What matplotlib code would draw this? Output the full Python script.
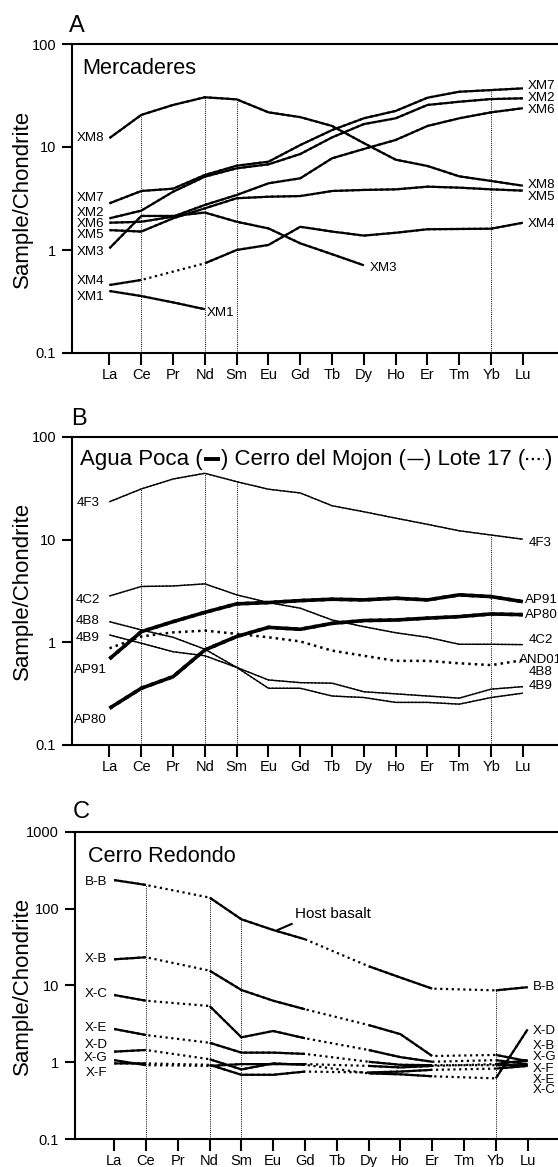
import numpy as np
import matplotlib
matplotlib.use("Agg")
import matplotlib.pyplot as plt
from matplotlib.lines import Line2D
from matplotlib.offsetbox import TextArea, DrawingArea, HPacker, AnchoredOffsetbox
from matplotlib.ticker import FixedLocator, NullLocator

plt.rcParams['font.family'] = ['Liberation Sans', 'DejaVu Sans']

nan = np.nan
ree = ['La', 'Ce', 'Pr', 'Nd', 'Sm', 'Eu', 'Gd', 'Tb', 'Dy', 'Ho', 'Er', 'Tm', 'Yb', 'Lu']
guide_ree = ['Ce', 'Nd', 'Sm', 'Yb']

# --- A: Mercaderes (chondrite normalised) ---
xm1 = [0.40, 0.357, 0.31, 0.266, nan, nan, nan, nan, nan, nan, nan, nan, nan, nan]
xm2 = [2.03, 2.41, 3.68, 5.15, 6.21, 6.79, 8.55, 12.4, 16.7, 19.0, 25.6, 27.5, 29.2, 29.7]
xm3 = [1.04, 2.14, 2.14, 2.31, 1.88, 1.62, 1.16, 0.91, 0.71, nan, nan, nan, nan, nan]
xm4 = [0.457, 0.512, nan, 0.743, 1.0, 1.12, 1.68, 1.51, 1.38, 1.47, 1.59, 1.60, 1.61, 1.84]
xm5 = [1.56, 1.51, 2.03, 2.54, 3.18, 3.29, 3.34, 3.74, 3.83, 3.88, 4.12, 4.03, 3.88, 3.77]
xm6 = [1.84, 1.88, 2.11, 2.74, 3.42, 4.44, 4.97, 7.77, 9.57, 11.7, 16.0, 19.0, 21.7, 23.8]
xm7 = [2.84, 3.74, 3.94, 5.35, 6.58, 7.2, 10.45, 14.6, 19.0, 22.4, 30.1, 34.4, 35.7, 37.1]
xm8 = [12.2, 20.5, 25.6, 30.4, 29.0, 21.7, 19.5, 16.0, 10.9, 7.53, 6.54, 5.19, 4.68, 4.21]

# --- B: Agua Poca / Cerro del Mojon / Lote 17 ---
s4f3 = [23.4, 31.2, 39.0, 44.3, 36.7, 31.0, 28.5, 21.4, 18.7, 16.2, 14.1, 12.2, 11.1, 10.1]
s4c2 = [2.83, 3.5, 3.54, 3.71, 2.90, 2.44, 2.15, 1.65, 1.42, 1.24, 1.12, 0.957, 0.957, 0.95]
s4b8 = [1.59, 1.32, 1.12, 0.857, 0.57, 0.43, 0.405, 0.40, 0.33, 0.315, 0.30, 0.286, 0.35, 0.37]
s4b9 = [1.18, 0.98, 0.81, 0.74, 0.57, 0.357, 0.357, 0.30, 0.29, 0.26, 0.26, 0.25, 0.29, 0.32]
ap91 = [0.69, 1.27, 1.59, 1.96, 2.37, 2.44, 2.55, 2.63, 2.59, 2.69, 2.59, 2.90, 2.79, 2.49]
ap80 = [0.228, 0.357, 0.463, 0.843, 1.14, 1.40, 1.34, 1.53, 1.63, 1.65, 1.72, 1.78, 1.89, 1.86]
and01 = [0.875, 1.14, 1.25, 1.30, 1.21, 1.12, 1.02, 0.83, 0.74, 0.66, 0.66, 0.625, 0.60, 0.67]

# --- C: Cerro Redondo (Pr, Tb, Tm not analysed) ---
bb = [235, 203, nan, 139, 72.6, 52.7, 39.9, nan, 17.8, 12.7, 9.1, nan, 8.65, 9.5]
xb = [21.9, 23.3, nan, 15.6, 8.74, 6.34, 4.91, nan, 3.06, 2.33, 1.21, nan, 1.25, 1.04]
xc = [7.52, 6.34, nan, 5.41, 2.12, 2.56, 2.06, nan, 1.45, 1.17, 1.02, nan, 1.07, 0.95]
xe = [2.72, 2.27, nan, 1.80, 1.34, 1.34, 1.29, nan, 1.02, 0.93, 0.92, nan, 0.92, 0.92]
xd = [1.38, 1.45, nan, 1.10, 0.81, 0.97, 0.93, nan, 0.72, 0.70, 0.66, nan, 0.62, 2.69]
xg = [1.07, 0.92, nan, 0.90, 0.95, 0.95, 0.95, nan, 0.90, 0.86, 0.90, nan, 0.95, 1.07]
xf = [0.97, 0.97, nan, 0.93, 0.69, 0.69, 0.76, nan, 0.74, 0.76, 0.80, nan, 0.83, 0.90]

x = np.arange(len(ree))
DOT = (0, (1, 1.6))


def draw_series(ax, vals, lw, all_dotted=False):
    y = np.array(vals, float)
    ok = ~np.isnan(y)
    # dotted line bridges the missing elements, solid line drawn on top
    ax.plot(x[ok], y[ok], color='k', lw=lw, ls=DOT, zorder=3)
    if not all_dotted:
        ax.plot(x, y, color='k', lw=lw, solid_capstyle='butt', zorder=4)


def setup(ax, ylo, yhi, xlo, series):
    ax.set_yscale('log')
    ax.set_ylim(ylo, yhi)
    ax.set_xlim(xlo, xlo + ax.get_position().width * 558 / 31.8)
    for side in ['top', 'left', 'bottom']:
        ax.spines[side].set_linewidth(1.5)
    ax.spines['right'].set_visible(False)
    decades = [10.0 ** k for k in range(int(np.log10(ylo)), int(np.log10(yhi)) + 1)]
    ax.yaxis.set_major_locator(FixedLocator(decades))
    ax.yaxis.set_minor_locator(NullLocator())
    ax.set_yticklabels(['%g' % d for d in decades])
    ax.set_xticks(x)
    ax.set_xticklabels(ree)
    ax.tick_params(axis='y', direction='out', length=7, width=1.5, pad=4.5, labelsize=10.5)
    ax.tick_params(axis='x', direction='out', length=8.5, width=1.5, pad=2, labelsize=10.5)
    ax.set_ylabel('Sample/Chondrite', fontsize=16)
    ax.yaxis.set_label_coords(-(ax.get_position().x0 * 558 - 33) / (ax.get_position().width * 558), 0.5)
    # dotted guides from the axis floor up to the highest pattern
    top = np.nanmax(np.array(series, float), axis=0)
    for el in guide_ree:
        i = ree.index(el)
        ax.plot([i, i], [ylo, top[i]], color='k', lw=0.7, ls=(0, (1, 1.2)), zorder=1)


def labels(ax, items, xpos, ha, fs=9.6):
    for name, yv in items:
        ax.text(xpos, yv, name, ha=ha, va='center', fontsize=fs)


fig = plt.figure(figsize=(5.58, 11.67), dpi=100)
H = 1167.0
W = 558.0

# ---------------- A ----------------
axA = fig.add_axes([72 / W, (H - 353) / H, 528 / W, 309 / H])
setup(axA, 0.1, 100, -1.179, [xm1, xm2, xm3, xm4, xm5, xm6, xm7, xm8])
for s in [xm1, xm2, xm3, xm4, xm5, xm6, xm7, xm8]:
    draw_series(axA, s, 1.6)
labels(axA, [('XM8', 12.3), ('XM7', 3.22), ('XM2', 2.30), ('XM6', 1.79), ('XM5', 1.40),
             ('XM3', 0.95), ('XM4', 0.50), ('XM1', 0.352)], -0.17, 'right')
labels(axA, [('XM7', 38.7), ('XM2', 29.9), ('XM6', 22.9), ('XM8', 4.28), ('XM5', 3.29),
             ('XM4', 1.79)], 13.16, 'left')
axA.text(3.07, 0.243, 'XM1', ha='left', va='center', fontsize=9.6)
axA.text(8.19, 0.664, 'XM3', ha='left', va='center', fontsize=9.6)
axA.text(10 / 528, 0.903, 'Mercaderes', transform=axA.transAxes, fontsize=15.6, va='baseline')
fig.text(69 / W, (H - 32) / H, 'A', fontsize=17, va='baseline')

# ---------------- B ----------------
axB = fig.add_axes([72 / W, (H - 745) / H, 528 / W, 308 / H])
setup(axB, 0.1, 100, -1.179, [s4f3, s4c2, s4b8, s4b9, ap91, ap80, and01])
for s in [s4f3, s4c2, s4b8, s4b9]:
    draw_series(axB, s, 1.0)
for s in [ap91, ap80]:
    draw_series(axB, s, 2.6)
draw_series(axB, and01, 1.8, all_dotted=True)
labels(axB, [('4F3', 22.8), ('4C2', 2.59), ('4B8', 1.62), ('4B9', 1.10)], -0.3, 'right')
labels(axB, [('AP91', 0.54), ('AP80', 0.175)], -0.08, 'right')
labels(axB, [('4F3', 9.23), ('4C2', 1.05), ('4B8', 0.519), ('4B9', 0.376)], 13.19, 'left')
labels(axB, [('AP91', 2.59), ('AP80', 1.85)], 13.07, 'left')
labels(axB, [('AND01', 0.675)], 12.88, 'left')


def sym(width, lw, ls='-'):
    da = DrawingArea(width, 10, 0, 0, clip=False)
    da.add_artist(Line2D([0.8, width - 0.8], [4.8, 4.8], color='k', lw=lw, ls=ls,
                         solid_capstyle='butt'))
    return da


tp = dict(fontsize=16)
parts = [TextArea('Agua Poca (', textprops=tp), sym(13, 2.8),
         TextArea(') Cerro del Mojon (', textprops=tp), sym(13, 1.0),
         TextArea(') Lote 17 (', textprops=tp), sym(14, 1.6, DOT),
         TextArea(')', textprops=tp)]
title_box = HPacker(children=parts, align='baseline', pad=0, sep=0)
axB.add_artist(AnchoredOffsetbox(loc='lower left', child=title_box, pad=0, borderpad=0,
                                 frameon=False, bbox_to_anchor=(8 / 528, 0.892),
                                 bbox_transform=axB.transAxes))
fig.text(71 / W, (H - 425) / H, 'B', fontsize=17, va='baseline')

# ---------------- C ----------------
axC = fig.add_axes([75 / W, (H - 1139.3) / H, 525 / W, 307.6 / H])
setup(axC, 0.1, 1000, -1.233, [bb, xb, xc, xe, xd, xg, xf])
for s in [bb, xb, xc, xe, xd, xg, xf]:
    draw_series(axC, s, 1.6)
labels(axC, [('B-B', 224), ('X-B', 21.9), ('X-C', 7.75), ('X-E', 2.78), ('X-D', 1.68),
             ('X-G', 1.13), ('X-F', 0.72)], -0.22, 'right')
labels(axC, [('B-B', 9.48), ('X-D', 2.58), ('X-B', 1.63), ('X-G', 1.19), ('X-F', 0.82),
             ('X-E', 0.59), ('X-C', 0.44)], 13.17, 'left', fs=9.5)
axC.plot([5.14, 5.58], [52.7, 63.2], color='k', lw=1.5)
axC.text(5.69, 84, 'Host basalt', ha='left', va='center', fontsize=11)
axC.text(13 / 525, 0.9025, 'Cerro Redondo', transform=axC.transAxes, fontsize=15.6, va='baseline')
fig.text(73 / W, (H - 818) / H, 'C', fontsize=17, va='baseline')

fig.savefig('out.png', dpi=100)
